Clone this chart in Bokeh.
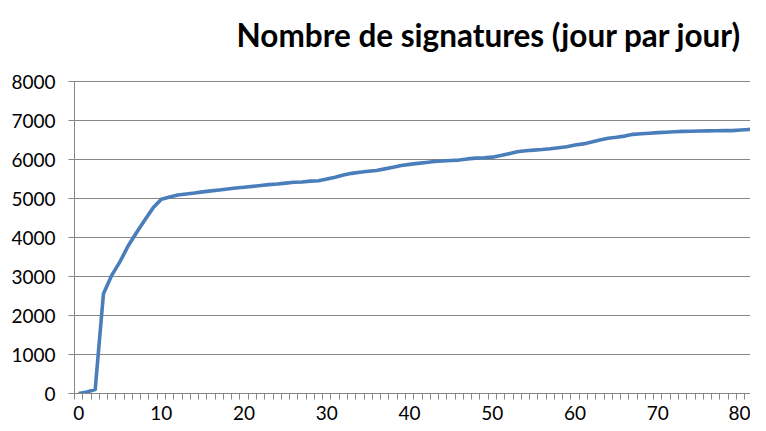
from bokeh.plotting import figure
from bokeh.models import Range1d, FixedTicker, Label
from bokeh.embed import file_html
from bokeh.resources import INLINE

# Data
jours = list(range(0, 83))
signatures = [
    0, 40, 100, 2560, 3030, 3380, 3790, 4130, 4450, 4760,
    4980, 5040, 5090, 5115, 5140, 5170, 5195, 5220, 5245, 5270,
    5290, 5310, 5335, 5355, 5370, 5395, 5415, 5425, 5445, 5455,
    5500, 5545, 5600, 5645, 5675, 5700, 5720, 5760, 5800, 5845,
    5875, 5900, 5925, 5950, 5960, 5975, 5985, 6015, 6035, 6045,
    6060, 6100, 6150, 6200, 6225, 6240, 6255, 6275, 6300, 6325,
    6370, 6400, 6450, 6500, 6545, 6570, 6600, 6645, 6660, 6675,
    6690, 6700, 6710, 6720, 6725, 6730, 6735, 6738, 6740, 6740,
    6755, 6770, 6780,
]
x_tick_labels = [0, 10, 20, 30, 40, 50, 60, 70, 80]
y_tick_labels = [0, 1000, 2000, 3000, 4000, 5000, 6000, 7000, 8000]
titre = "Nombre de signatures (jour par jour)"

GRAY = "#868686"
BLUE = "#4A7EBB"
FONT = "Lato"

# Frame spans the canvas top down to the x axis; the value axis stops at 8000,
# leaving the upper band of the frame free for the chart title.
FRAME_TOP_PX = 81.0      # pixel distance between canvas top and the 8000 line
FRAME_H_PX = 393.0       # pixel height of the frame (canvas top to x axis)
y_max = y_tick_labels[-1]
y_top = y_max * FRAME_H_PX / (FRAME_H_PX - FRAME_TOP_PX)

p = figure(width=750, height=423, output_backend="svg", toolbar_location=None,
           title=None,
           x_range=Range1d(-0.5, 81.2), y_range=Range1d(0, y_top),
           min_border_left=74, min_border_right=0, min_border_top=0,
           min_border_bottom=30)
p.background_fill_color = "white"
p.border_fill_color = "white"
p.outline_line_color = None

# Title in screen units (relative to the frame's bottom-left corner)
p.add_layout(Label(x=162, y=359, x_units="screen", y_units="screen",
                   text=titre, text_font=FONT, text_font_style="bold",
                   text_font_size="31.5px", text_color="black",
                   text_baseline="alphabetic", text_align="left"))

p.line(jours, signatures, line_color=BLUE, line_width=3.6, line_join="round")

# x axis
xa = p.xaxis[0]
xa.ticker = FixedTicker(ticks=x_tick_labels,
                        minor_ticks=[j - 0.5 for j in jours])
xa.axis_line_color = GRAY
xa.major_tick_line_color = None
xa.major_tick_out = 0
xa.major_tick_in = 0
xa.minor_tick_line_color = GRAY
xa.minor_tick_out = 6
xa.minor_tick_in = 0
xa.major_label_standoff = 6
xa.major_label_text_font = FONT
xa.major_label_text_font_size = "19px"
xa.major_label_text_color = "black"

# y axis
ya = p.yaxis[0]
ya.ticker = FixedTicker(ticks=y_tick_labels, minor_ticks=[])
ya.bounds = (0, y_max)
ya.axis_line_color = GRAY
ya.major_tick_line_color = GRAY
ya.major_tick_out = 6
ya.major_tick_in = 0
ya.minor_tick_line_color = None
ya.major_label_standoff = 13
ya.major_label_text_font = FONT
ya.major_label_text_font_size = "19px"
ya.major_label_text_color = "black"

p.xgrid.grid_line_color = None
p.ygrid.grid_line_color = GRAY
p.ygrid.grid_line_width = 1

open("out.html", "w").write(file_html(p, INLINE))
